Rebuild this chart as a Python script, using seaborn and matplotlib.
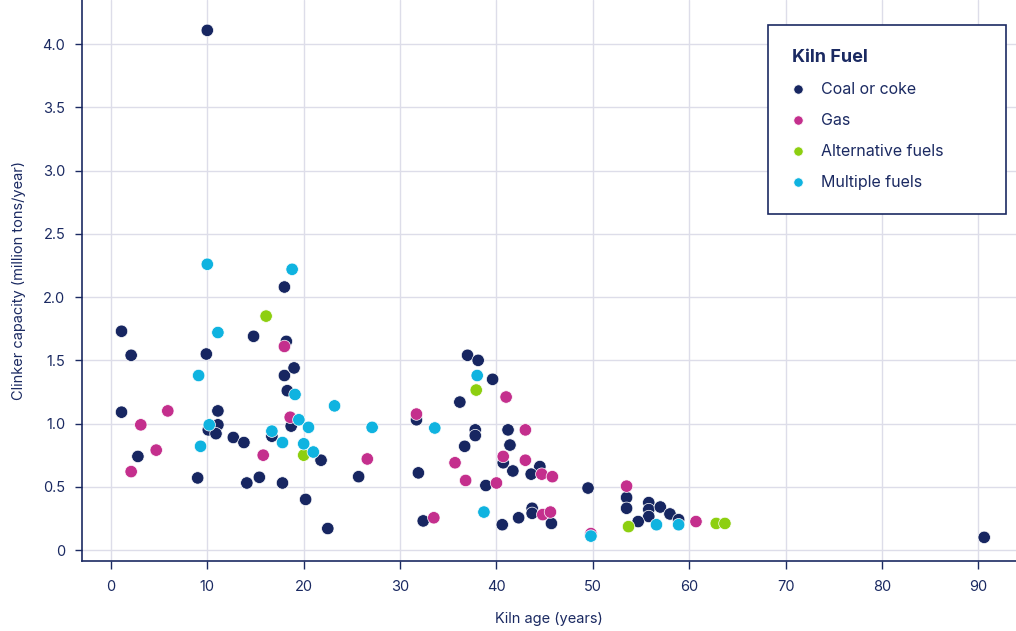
# plot.py - kiln age vs clinker capacity by fuel type

import pandas as pd
import matplotlib
matplotlib.use('Agg')
import matplotlib.pyplot as plt
import seaborn as sns

# Data
coal_age = [10.0, 1.1, 2.1, 1.1, 2.8, 9.9, 9.0, 11.1, 11.1, 10.1, 10.9, 12.7, 13.8,
            18.0, 14.8, 18.2, 18.0, 19.0, 18.3, 18.7, 16.7, 21.8, 15.4, 14.1, 17.8,
            20.2, 22.5, 25.7, 31.7, 31.9, 32.4, 37.0, 38.1, 39.6, 36.2, 37.8, 37.8,
            41.2, 36.7, 41.4, 40.7, 41.7, 38.9, 40.6, 42.3, 44.5, 43.6, 49.5, 53.5,
            53.5, 55.8, 55.8, 55.8, 57.0, 58.0, 58.9, 54.7, 43.7, 43.7, 45.7, 90.6]
coal_cap = [4.11, 1.73, 1.54, 1.09, 0.74, 1.55, 0.57, 1.10, 0.99, 0.95, 0.92, 0.89, 0.85,
            2.08, 1.69, 1.65, 1.38, 1.44, 1.26, 0.98, 0.90, 0.71, 0.575, 0.53, 0.53,
            0.40, 0.17, 0.58, 1.03, 0.61, 0.23, 1.54, 1.50, 1.35, 1.17, 0.95, 0.905,
            0.95, 0.82, 0.83, 0.69, 0.625, 0.51, 0.20, 0.255, 0.66, 0.60, 0.49, 0.415,
            0.33, 0.375, 0.32, 0.265, 0.34, 0.285, 0.24, 0.225, 0.33, 0.29, 0.21, 0.10]

gas_age = [18.0, 5.9, 3.1, 18.6, 4.7, 2.1, 15.8, 26.6, 31.7, 33.5, 41.0, 35.7, 36.8,
           40.7, 40.0, 43.0, 43.0, 44.7, 45.8, 53.5, 60.7, 49.8, 44.8, 45.6]
gas_cap = [1.61, 1.10, 0.99, 1.05, 0.79, 0.62, 0.75, 0.72, 1.075, 0.255, 1.21, 0.69, 0.55,
           0.74, 0.53, 0.95, 0.71, 0.60, 0.58, 0.505, 0.225, 0.13, 0.28, 0.30]

alt_age = [16.1, 20.0, 37.9, 53.7, 62.8, 63.7]
alt_cap = [1.85, 0.75, 1.265, 0.185, 0.21, 0.21]

multi_age = [10.0, 18.8, 11.1, 9.1, 19.1, 10.2, 19.5, 20.5, 16.7, 17.8, 20.0, 21.0,
             9.3, 23.2, 27.1, 33.6, 38.0, 38.7, 49.8, 56.6, 58.9]
multi_cap = [2.26, 2.22, 1.72, 1.38, 1.23, 0.99, 1.03, 0.97, 0.94, 0.85, 0.84, 0.775,
             0.82, 1.14, 0.97, 0.965, 1.38, 0.30, 0.11, 0.20, 0.20]

fuel_names = ['Coal or coke', 'Gas', 'Alternative fuels', 'Multiple fuels']
fuel_colors = ['#172661', '#c42f8d', '#8dcf10', '#0fb3e0']

df = pd.concat([
    pd.DataFrame({'age': coal_age, 'cap': coal_cap, 'fuel': fuel_names[0]}),
    pd.DataFrame({'age': gas_age, 'cap': gas_cap, 'fuel': fuel_names[1]}),
    pd.DataFrame({'age': alt_age, 'cap': alt_cap, 'fuel': fuel_names[2]}),
    pd.DataFrame({'age': multi_age, 'cap': multi_cap, 'fuel': fuel_names[3]}),
], ignore_index=True)

navy = '#1b2a62'
sns.set_theme(style='whitegrid')
plt.rcParams['font.family'] = ['Inter', 'DejaVu Sans']

fig = plt.figure(figsize=(10.16, 6.31), dpi=100)
ax = fig.add_axes([82 / 1016, 70 / 631, 934 / 1016, 561 / 631])

sns.scatterplot(data=df, x='age', y='cap', hue='fuel', hue_order=fuel_names,
                palette=dict(zip(fuel_names, fuel_colors)), s=80,
                edgecolor='white', linewidth=0.5, ax=ax, zorder=3)

ax.set_xlim(-3, 93.9)
ax.set_ylim(-0.087, 4.35)
ax.set_xticks(range(0, 91, 10))
ax.set_yticks([0, 0.5, 1.0, 1.5, 2.0, 2.5, 3.0, 3.5, 4.0])
ax.set_yticklabels(['0', '0.5', '1.0', '1.5', '2.0', '2.5', '3.0', '3.5', '4.0'])

ax.grid(True, color='#dddde9', linewidth=1)
for side in ['top', 'right']:
    ax.spines[side].set_visible(False)
for side in ['left', 'bottom']:
    ax.spines[side].set_color(navy)
    ax.spines[side].set_linewidth(1.2)
ax.tick_params(axis='both', colors=navy, labelsize=10.5, width=1, direction='out')
ax.tick_params(axis='x', bottom=True, length=6, pad=8)
ax.tick_params(axis='y', left=True, length=5, pad=7)

ax.set_xlabel('Kiln age (years)', color=navy, fontsize=10.5, labelpad=12.5)
ax.set_ylabel('Clinker capacity (million tons/year)', color=navy, fontsize=10.5, labelpad=12)

leg = ax.legend(title='Kiln Fuel', loc='upper left',
                bbox_to_anchor=(0.7345, 0.0, 0.2548, 0.955), mode='expand',
                borderaxespad=0, frameon=True, fancybox=False, framealpha=1,
                edgecolor=navy, fontsize=11.5, title_fontsize=13, labelspacing=1.0,
                handlelength=0.8, handletextpad=1.0, borderpad=1.5, markerscale=0.75)
leg.get_frame().set_linewidth(1.2)
leg._legend_box.align = 'left'
leg.get_title().set_color(navy)
leg.get_title().set_fontweight('bold')
for t in leg.get_texts():
    t.set_color(navy)

plt.savefig('out.png', dpi=100)
